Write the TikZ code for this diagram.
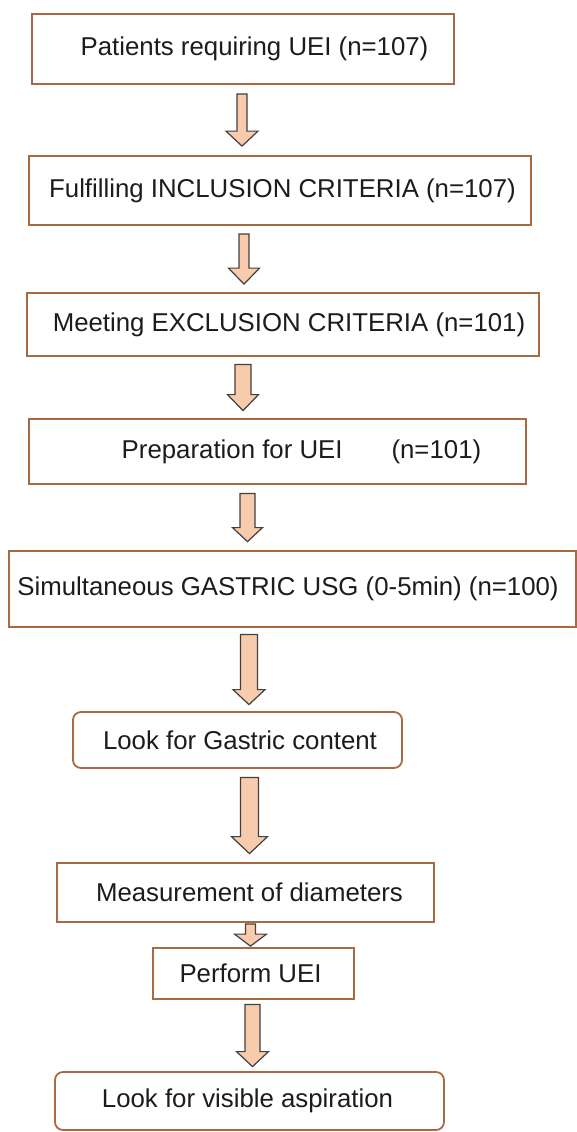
\documentclass[tikz,border=0pt]{standalone}
\usepackage{fontspec}
\setmainfont{Liberation Sans}
\usepackage{tikz}
\usetikzlibrary{calc}

\definecolor{boxbrown}{RGB}{168,106,64}
\definecolor{peach}{RGB}{248,203,173}
\definecolor{arrowgray}{RGB}{64,64,64}
\definecolor{textgray}{RGB}{28,28,28}

\tikzset{
  stepbox/.style={draw=boxbrown, line width=0.9pt, fill=white, inner sep=0pt,
    text=textgray, font=\fontsize{12.9}{15}\selectfont},
  roundbox/.style={stepbox, rounded corners=4pt},
  blockarrow/.style={draw=arrowgray, fill=peach, line width=0.6pt, line join=miter}
}

% block arrow: from, to, centre x, half shaft, half head, head length, gap
\newcommand{\fatarrow}[7]{%
  \path[blockarrow] let \p1=(#1.south), \p2=(#2.north) in
    ({(#3-#4)*0.5pt},{\y1-#7*0.5pt}) -- ({(#3-#4)*0.5pt},{\y2+(#7+#6)*0.5pt})
    -- ({(#3-#5)*0.5pt},{\y2+(#7+#6)*0.5pt}) -- ({#3*0.5pt},{\y2+#7*0.5pt})
    -- ({(#3+#5)*0.5pt},{\y2+(#7+#6)*0.5pt}) -- ({(#3+#4)*0.5pt},{\y2+(#7+#6)*0.5pt})
    -- ({(#3+#4)*0.5pt},{\y1-#7*0.5pt}) -- cycle;
}

\begin{document}
\begin{tikzpicture}[x=0.5pt, y=-0.5pt]

\useasboundingbox (0,0) rectangle (577,1132);

% draw boxes
\node[stepbox, minimum width=211pt, minimum height=35pt] (patients) at (243,49)
  {\hspace*{11.5pt}Patients requiring UEI (n=107)};
\node[stepbox, minimum width=251pt, minimum height=34.5pt] (inclusion) at (280,190.5)
  {\hspace*{2.5pt}Fulfilling INCLUSION CRITERIA (n=107)};
\node[stepbox, minimum width=256pt, minimum height=31.5pt] (exclusion) at (283,324.5)
  {\hspace*{6pt}Meeting EXCLUSION CRITERIA (n=101)};
\node[stepbox, minimum width=248.5pt, minimum height=32.5pt] (preparation) at (277.5,451.5)
  {\hspace*{24pt}Preparation for UEI\hspace{1.9em}(n=101)};
\node[stepbox, minimum width=283.5pt, minimum height=38pt] (usg) at (292.5,589)
  {Simultaneous GASTRIC USG (0-5min) (n=100)\hspace*{4.5pt}};
\node[roundbox, minimum width=164.5pt, minimum height=28pt] (content) at (237.5,740)
  {\hspace*{2.5pt}Look for Gastric content};
\node[stepbox, minimum width=188.5pt, minimum height=29.5pt] (diameters) at (245.5,892.5)
  {\hspace*{4pt}Measurement of diameters};
\node[stepbox, minimum width=100.5pt, minimum height=25.5pt] (perform) at (253.5,973.5)
  {Perform UEI\hspace*{3pt}};
\node[roundbox, minimum width=194.5pt, minimum height=29pt] (aspiration) at (249.5,1101)
  {Look for visible aspiration\hspace*{2pt}};

% draw arrows
\fatarrow{patients}{inclusion}{242}{5}{16}{15}{9}
\fatarrow{inclusion}{exclusion}{244}{5}{15.5}{16}{8}
\fatarrow{exclusion}{preparation}{243}{8}{15.5}{16}{7.5}
\fatarrow{preparation}{usg}{247.5}{7.5}{15}{14}{8.5}
\fatarrow{usg}{content}{249}{8.5}{16}{15}{6.5}
\fatarrow{content}{diameters}{249.5}{9}{18}{17}{8.5}
\fatarrow{diameters}{perform}{250.5}{5}{16}{12}{1}
\fatarrow{perform}{aspiration}{252.5}{7.5}{16}{15}{4.5}

\end{tikzpicture}
\end{document}
